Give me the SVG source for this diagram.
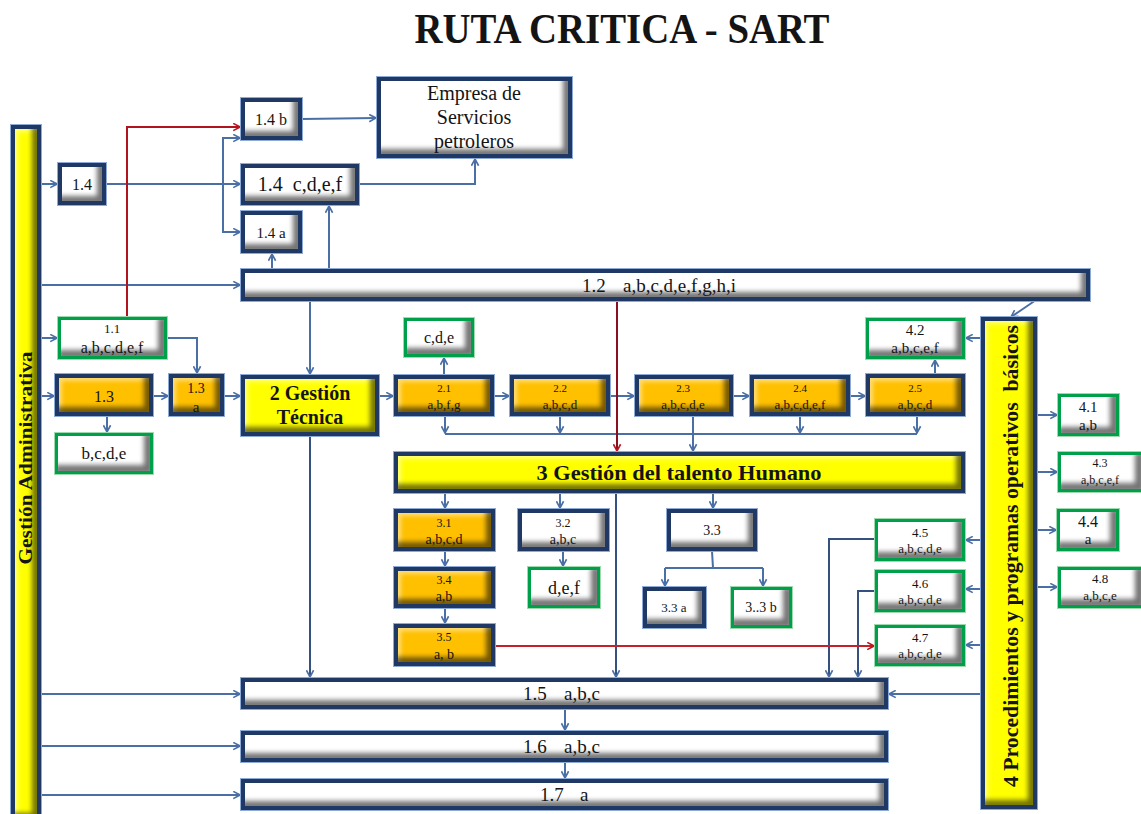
<svg xmlns="http://www.w3.org/2000/svg" width="1141" height="814" viewBox="0 0 1141 814">
  <defs>
    <style>
      .nv { filter: url(#bvN); }
      .gr { filter: url(#bvG); }
      .w { fill: #ffffff; }
      .o { fill: #ffc000; }
      .y { fill: #ffff00; }
      text { font-family: "Liberation Serif", "DejaVu Serif", serif; fill: #141414; text-anchor: middle; }
      .b { font-weight: bold; }
      .st { text-anchor: start; }
      .c { fill: none; stroke: #4a6fa5; stroke-width: 2; marker-end: url(#ah); }
      .l { fill: none; stroke: #4a6fa5; stroke-width: 2; }
      .d { stroke: #34517f; }
      .r { fill: none; stroke-width: 2; marker-end: url(#ahr); }
    </style>
    <!-- bevelled face with navy frame and light halo -->
    <filter id="bvN" x="-0.1" y="-0.2" width="1.2" height="1.4" color-interpolation-filters="sRGB">
      <feOffset in="SourceAlpha" dx="-9" dy="-9" result="s1"/>
      <feComposite in="SourceAlpha" in2="s1" operator="out" result="s2"/>
      <feGaussianBlur in="s2" stdDeviation="2.5" result="s3"/>
      <feComposite in="s3" in2="SourceAlpha" operator="in" result="s4"/>
      <feFlood flood-color="#000" flood-opacity="0.55"/>
      <feComposite in2="s4" operator="in" result="shade"/>
      <feOffset in="SourceAlpha" dx="7" dy="7" result="h1"/>
      <feComposite in="SourceAlpha" in2="h1" operator="out" result="h2"/>
      <feGaussianBlur in="h2" stdDeviation="2" result="h3"/>
      <feComposite in="h3" in2="SourceAlpha" operator="in" result="h4"/>
      <feFlood flood-color="#fff" flood-opacity="0.45"/>
      <feComposite in2="h4" operator="in" result="light"/>
      <feMorphology in="SourceAlpha" operator="erode" radius="3.5" result="inner"/>
      <feComposite in="SourceAlpha" in2="inner" operator="out" result="ring"/>
      <feFlood flood-color="#1f3864"/>
      <feComposite in2="ring" operator="in" result="frame"/>
      <feMorphology in="SourceAlpha" operator="dilate" radius="1.2" result="outer"/>
      <feFlood flood-color="#8eaad6"/>
      <feComposite in2="outer" operator="in" result="halo"/>
      <feMerge>
        <feMergeNode in="halo"/>
        <feMergeNode in="SourceGraphic"/>
        <feMergeNode in="light"/>
        <feMergeNode in="shade"/>
        <feMergeNode in="frame"/>
      </feMerge>
    </filter>
    <!-- same bevel with a green frame -->
    <filter id="bvG" x="-0.1" y="-0.2" width="1.2" height="1.4" color-interpolation-filters="sRGB">
      <feOffset in="SourceAlpha" dx="-9" dy="-9" result="s1"/>
      <feComposite in="SourceAlpha" in2="s1" operator="out" result="s2"/>
      <feGaussianBlur in="s2" stdDeviation="2.5" result="s3"/>
      <feComposite in="s3" in2="SourceAlpha" operator="in" result="s4"/>
      <feFlood flood-color="#000" flood-opacity="0.55"/>
      <feComposite in2="s4" operator="in" result="shade"/>
      <feMorphology in="SourceAlpha" operator="erode" radius="3.2" result="inner"/>
      <feComposite in="SourceAlpha" in2="inner" operator="out" result="ring"/>
      <feFlood flood-color="#00a04a"/>
      <feComposite in2="ring" operator="in" result="frame"/>
      <feMorphology in="SourceAlpha" operator="dilate" radius="1" result="outer"/>
      <feFlood flood-color="#9ed9b0"/>
      <feComposite in2="outer" operator="in" result="halo"/>
      <feMerge>
        <feMergeNode in="halo"/>
        <feMergeNode in="SourceGraphic"/>
        <feMergeNode in="shade"/>
        <feMergeNode in="frame"/>
      </feMerge>
    </filter>
    <marker id="ah" viewBox="0 0 10 10" refX="9" refY="5" markerWidth="9" markerHeight="9" markerUnits="userSpaceOnUse" orient="auto">
      <path d="M1.5,1 L9,5 L1.5,9" fill="none" stroke="#4a6fa5" stroke-width="1.8"/>
    </marker>
    <marker id="ahr" viewBox="0 0 10 10" refX="9" refY="5" markerWidth="9" markerHeight="9" markerUnits="userSpaceOnUse" orient="auto">
      <path d="M1.5,1 L9,5 L1.5,9" fill="none" stroke="#b81820" stroke-width="1.8"/>
    </marker>
  </defs>

  <rect width="1141" height="814" fill="#ffffff"/>

  <text class="b" x="622" y="43" font-size="42" textLength="415" lengthAdjust="spacingAndGlyphs">RUTA CRITICA - SART</text>

  <!-- connectors -->
  <g id="connectors">
    <path class="c" d="M40,184 H57"/>
    <path class="c" d="M40,285 H240"/>
    <path class="c" d="M40,338 H57"/>
    <path class="c" d="M40,396 H54"/>
    <path class="c" d="M40,694 H240"/>
    <path class="c" d="M40,746 H240"/>
    <path class="c" d="M40,795 H240"/>
    <path class="c" d="M106,184 H240"/>
    <path class="c" d="M223,184 V138 H240"/>
    <path class="c" d="M223,184 V232 H240"/>
    <path class="c" d="M302,119 L376,118"/>
    <path class="c" d="M359,184 H475 V159"/>
    <path class="c" d="M272,269 V254"/>
    <path class="c" d="M329,269 V206"/>
    <path class="c" d="M310,301 V374"/>
    <path class="c" d="M1036,300 L1011,317"/>
    <path class="c" d="M167,338 H197 V373"/>
    <path class="c" d="M153,396 H168"/>
    <path class="c" d="M107,416 V432"/>
    <path class="c" d="M224,396 H240"/>
    <path class="c" d="M379,396 H393"/>
    <path class="c d" d="M310,436 V677"/>
    <path class="c" d="M444,375 V358"/>
    <path class="c" d="M494,396 H509"/>
    <path class="c" d="M610,396 H634"/>
    <path class="c" d="M733,396 H749"/>
    <path class="c" d="M850,396 H865"/>
    <path class="c" d="M935,374 V360"/>
    <path class="c" d="M981,338 H966"/>
    <path class="l" d="M445,434 H917"/>
    <path class="c" d="M445,416 V433"/>
    <path class="c" d="M560,416 V433"/>
    <path class="c" d="M800,416 V433"/>
    <path class="c" d="M917,416 V433"/>
    <path class="c" d="M693,416 V451"/>
    <path class="c" d="M445,493 V508"/>
    <path class="c" d="M560,493 V508"/>
    <path class="c" d="M713,493 V508"/>
    <path class="c d" d="M616,493 V677"/>
    <path class="c" d="M445,551 V566"/>
    <path class="c" d="M445,608 V623"/>
    <path class="c" d="M563,551 V566"/>
    <path class="l" d="M712,551 L713,568 M665,568 H763"/>
    <path class="c" d="M665,568 V586"/>
    <path class="c" d="M763,568 V586"/>
    <path class="c d" d="M875,539 H829 V677"/>
    <path class="c d" d="M875,591 H858 V677"/>
    <path class="c" d="M981,540 H966"/>
    <path class="c" d="M981,589 H966"/>
    <path class="c" d="M981,645 H966"/>
    <path class="c" d="M981,694 H889"/>
    <path class="c" d="M1037,415 H1057"/>
    <path class="c" d="M1037,472 H1057"/>
    <path class="c" d="M1037,530 H1056"/>
    <path class="c" d="M1037,587 H1057"/>
    <path class="c" d="M565,709 V730"/>
    <path class="c" d="M565,762 V778"/>
    <path class="r" stroke="#b0141c" d="M127,317 V127 H240"/>
    <path class="r" stroke="#8a1020" d="M617,301 V451"/>
    <path class="r" stroke="#c8202a" d="M495,646 H874"/>
  </g>

  <!-- nodes -->
  <g id="gestion-administrativa">
    <rect class="nv y" x="11" y="125" width="30" height="697"/>
    <text class="b" transform="translate(32,458) rotate(-90)" font-size="18" textLength="213" lengthAdjust="spacingAndGlyphs">Gestión Administrativa</text>
  </g>
  <g id="procedimientos">
    <rect class="nv y" x="981" y="317" width="56" height="492"/>
    <text class="b" transform="translate(1018,556) rotate(-90)" font-size="20" textLength="462" lengthAdjust="spacingAndGlyphs" xml:space="preserve">4 Procedimientos y programas operativos  básicos</text>
  </g>
  <g id="n1-4">
    <rect class="nv w" x="58" y="163" width="48" height="42"/>
    <text x="82" y="190" font-size="16">1.4</text>
  </g>
  <g id="n1-4b">
    <rect class="nv w" x="241" y="98" width="61" height="42"/>
    <text x="271" y="125" font-size="16">1.4 b</text>
  </g>
  <g id="n1-4cdef">
    <rect class="nv w" x="241" y="164" width="118" height="41"/>
    <text x="300" y="191" font-size="20" xml:space="preserve">1.4  c,d,e,f</text>
  </g>
  <g id="n1-4a">
    <rect class="nv w" x="241" y="211" width="61" height="42"/>
    <text x="271" y="238" font-size="15">1.4 a</text>
  </g>
  <g id="empresa">
    <rect class="nv w" x="377" y="77" width="195" height="81"/>
    <text x="474" y="100" font-size="20">Empresa de</text>
    <text x="474" y="124" font-size="20">Servicios</text>
    <text x="474" y="148" font-size="20">petroleros</text>
  </g>
  <g id="n1-2">
    <rect class="nv w" x="241" y="269" width="849" height="32"/>
    <text class="st" x="582" y="292" font-size="19">1.2<tspan x="623">a,b,c,d,e,f,g,h,i</tspan></text>
  </g>
  <g id="n1-1">
    <rect class="gr w" x="58" y="317" width="109" height="42"/>
    <text x="112" y="333" font-size="13">1.1</text>
    <text x="112" y="353" font-size="16">a,b,c,d,e,f</text>
  </g>
  <g id="n1-3">
    <rect class="nv o" x="55" y="374" width="98" height="42"/>
    <text x="104" y="402" font-size="16">1.3</text>
  </g>
  <g id="n1-3a">
    <rect class="nv o" x="169" y="374" width="55" height="42"/>
    <text x="196" y="393" font-size="14">1.3</text>
    <text x="196" y="412" font-size="15">a</text>
  </g>
  <g id="n1-3bcde">
    <rect class="gr w" x="55" y="433" width="98" height="41"/>
    <text x="104" y="459" font-size="17">b,c,d,e</text>
  </g>
  <g id="gestion-tecnica">
    <rect class="nv y" x="241" y="375" width="138" height="61"/>
    <text class="b" x="310" y="400" font-size="20">2 Gestión</text>
    <text class="b" x="310" y="424" font-size="20">Técnica</text>
  </g>
  <g id="n2-1cde">
    <rect class="gr w" x="404" y="318" width="70" height="39"/>
    <text x="439" y="343" font-size="16">c,d,e</text>
  </g>
  <g id="n2-1">
    <rect class="nv o" x="394" y="375" width="100" height="41"/>
    <text x="444" y="392" font-size="11">2.1</text>
    <text x="444" y="409" font-size="13">a,b,f,g</text>
  </g>
  <g id="n2-2">
    <rect class="nv o" x="510" y="375" width="100" height="41"/>
    <text x="560" y="392" font-size="11">2.2</text>
    <text x="560" y="409" font-size="13">a,b,c,d</text>
  </g>
  <g id="n2-3">
    <rect class="nv o" x="635" y="375" width="98" height="41"/>
    <text x="683" y="392" font-size="11">2.3</text>
    <text x="683" y="409" font-size="13">a,b,c,d,e</text>
  </g>
  <g id="n2-4">
    <rect class="nv o" x="750" y="375" width="100" height="41"/>
    <text x="800" y="392" font-size="11">2.4</text>
    <text x="800" y="409" font-size="13">a,b,c,d,e,f</text>
  </g>
  <g id="n2-5">
    <rect class="nv o" x="866" y="374" width="99" height="42"/>
    <text x="915" y="392" font-size="11">2.5</text>
    <text x="915" y="409" font-size="13">a,b,c,d</text>
  </g>
  <g id="n4-2">
    <rect class="gr w" x="866" y="318" width="99" height="41"/>
    <text x="915" y="335" font-size="15">4.2</text>
    <text x="915" y="353" font-size="15">a,b,c,e,f</text>
  </g>
  <g id="n4-1">
    <rect class="gr w" x="1058" y="394" width="61" height="42"/>
    <text x="1088" y="412" font-size="15">4.1</text>
    <text x="1088" y="430" font-size="15">a,b</text>
  </g>
  <g id="n4-3">
    <rect class="gr w" x="1058" y="452" width="86" height="40"/>
    <text x="1100" y="467" font-size="12">4.3</text>
    <text x="1100" y="484" font-size="12">a,b,c,e,f</text>
  </g>
  <g id="gestion-talento">
    <rect class="nv y" x="394" y="452" width="571" height="41"/>
    <text class="b" x="679" y="480" font-size="21" textLength="285" lengthAdjust="spacingAndGlyphs">3 Gestión del talento Humano</text>
  </g>
  <g id="n3-1">
    <rect class="nv o" x="394" y="509" width="101" height="42"/>
    <text x="444" y="527" font-size="12">3.1</text>
    <text x="444" y="544" font-size="14">a,b,c,d</text>
  </g>
  <g id="n3-4">
    <rect class="nv o" x="394" y="567" width="101" height="41"/>
    <text x="444" y="584" font-size="12">3.4</text>
    <text x="444" y="601" font-size="14">a,b</text>
  </g>
  <g id="n3-5">
    <rect class="nv o" x="394" y="624" width="101" height="42"/>
    <text x="444" y="641" font-size="12">3.5</text>
    <text x="444" y="659" font-size="14">a, b</text>
  </g>
  <g id="n3-2">
    <rect class="nv w" x="518" y="509" width="91" height="42"/>
    <text x="563" y="527" font-size="12">3.2</text>
    <text x="563" y="544" font-size="14">a,b,c</text>
  </g>
  <g id="n3-2def">
    <rect class="gr w" x="528" y="567" width="72" height="41"/>
    <text x="564" y="594" font-size="18">d,e,f</text>
  </g>
  <g id="n3-3">
    <rect class="nv w" x="667" y="509" width="90" height="42"/>
    <text x="712" y="535" font-size="14">3.3</text>
  </g>
  <g id="n3-3a">
    <rect class="nv w" x="643" y="587" width="63" height="41"/>
    <text x="674" y="612" font-size="13">3.3 a</text>
  </g>
  <g id="n3-3b">
    <rect class="gr w" x="731" y="587" width="61" height="41"/>
    <text x="761" y="612" font-size="14">3..3 b</text>
  </g>
  <g id="n4-5">
    <rect class="gr w" x="875" y="519" width="90" height="42"/>
    <text x="920" y="537" font-size="13">4.5</text>
    <text x="920" y="553" font-size="13">a,b,c,d,e</text>
  </g>
  <g id="n4-6">
    <rect class="gr w" x="875" y="570" width="90" height="42"/>
    <text x="920" y="588" font-size="13">4.6</text>
    <text x="920" y="604" font-size="13">a,b,c,d,e</text>
  </g>
  <g id="n4-7">
    <rect class="gr w" x="875" y="625" width="90" height="41"/>
    <text x="920" y="642" font-size="13">4.7</text>
    <text x="920" y="658" font-size="13">a,b,c,d,e</text>
  </g>
  <g id="n4-4">
    <rect class="gr w" x="1057" y="509" width="62" height="42"/>
    <text x="1088" y="527" font-size="16">4.4</text>
    <text x="1088" y="544" font-size="15">a</text>
  </g>
  <g id="n4-8">
    <rect class="gr w" x="1058" y="567" width="86" height="41"/>
    <text x="1100" y="583" font-size="13">4.8</text>
    <text x="1100" y="600" font-size="13">a,b,c,e</text>
  </g>
  <g id="n1-5">
    <rect class="nv w" x="241" y="678" width="647" height="31"/>
    <text class="st" x="523" y="700" font-size="19">1.5<tspan x="564">a,b,c</tspan></text>
  </g>
  <g id="n1-6">
    <rect class="nv w" x="241" y="731" width="647" height="31"/>
    <text class="st" x="523" y="753" font-size="19">1.6<tspan x="564">a,b,c</tspan></text>
  </g>
  <g id="n1-7">
    <rect class="nv w" x="241" y="779" width="647" height="31"/>
    <text class="st" x="540" y="801" font-size="19">1.7<tspan x="580">a</tspan></text>
  </g>
</svg>
